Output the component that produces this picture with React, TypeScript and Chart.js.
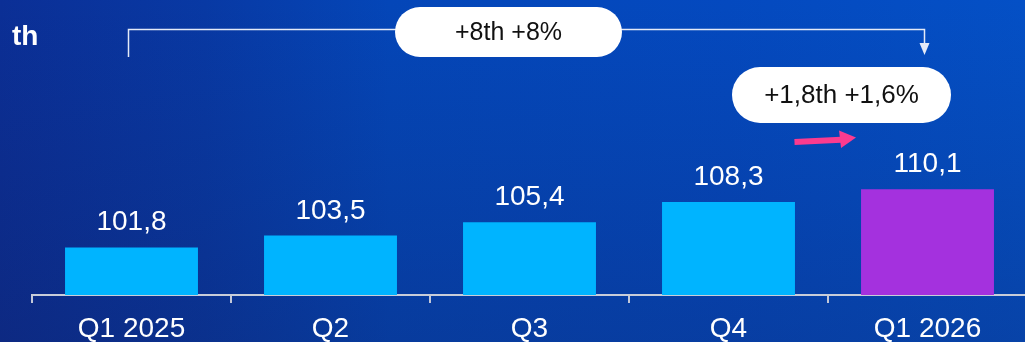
import React, { useEffect, useRef } from 'react';
import { Chart, registerables } from 'chart.js';

Chart.register(...registerables);

const FONT = "'Liberation Sans', Arial, Helvetica, sans-serif";

const categories = ['Q1 2025', 'Q2', 'Q3', 'Q4', 'Q1 2026'];
const values = [101.8, 103.5, 105.4, 108.3, 110.1];
const barColors = ['#00b4ff', '#00b4ff', '#00b4ff', '#00b4ff', '#a431de'];
const unitLabel = 'th';
const totalChangeLabel = '+8th +8%';
const lastChangeLabel = '+1,8th +1,6%';
const yMin = 95;
const yMax = 135;

const fmt = (v: number) => v.toFixed(1).replace('.', ',');

function drawPill(ctx: CanvasRenderingContext2D, x: number, y: number, w: number, h: number, text: string, size: number) {
  const r = h / 2;
  ctx.save();
  ctx.fillStyle = '#ffffff';
  ctx.beginPath();
  ctx.moveTo(x + r, y);
  ctx.lineTo(x + w - r, y);
  ctx.arc(x + w - r, y + r, r, -Math.PI / 2, Math.PI / 2);
  ctx.lineTo(x + r, y + h);
  ctx.arc(x + r, y + r, r, Math.PI / 2, (3 * Math.PI) / 2);
  ctx.closePath();
  ctx.fill();
  ctx.fillStyle = '#111111';
  ctx.font = `${size}px ${FONT}`;
  ctx.textAlign = 'center';
  ctx.textBaseline = 'middle';
  ctx.fillText(text, x + w / 2, y + h / 2 + 1);
  ctx.restore();
}

const overlay = {
  id: 'overlay',
  afterDatasetsDraw(chart: any) {
    const ctx: CanvasRenderingContext2D = chart.ctx;
    const meta = chart.getDatasetMeta(0);
    ctx.save();
    // value labels
    ctx.fillStyle = '#ffffff';
    ctx.font = `28px ${FONT}`;
    ctx.textAlign = 'center';
    ctx.textBaseline = 'alphabetic';
    meta.data.forEach((bar: any, i: number) => {
      ctx.fillText(fmt(values[i]), bar.x, bar.y - 17);
    });
    // unit label
    ctx.font = `bold 28px ${FONT}`;
    ctx.textAlign = 'left';
    ctx.fillText(unitLabel, 12, 45);

    // bracket
    const x0 = Math.round(meta.data[0].x - 3.5) + 0.5;
    const x1 = Math.round(meta.data[meta.data.length - 1].x - 3.5) + 0.5;
    const yb = 29.5;
    ctx.strokeStyle = '#e4eaf8';
    ctx.lineWidth = 1.5;
    ctx.beginPath();
    ctx.moveTo(x0, 57);
    ctx.lineTo(x0, yb);
    ctx.lineTo(x1, yb);
    ctx.lineTo(x1, 45);
    ctx.stroke();
    ctx.fillStyle = '#e4eaf8';
    ctx.beginPath();
    ctx.moveTo(x1 - 5, 43);
    ctx.lineTo(x1 + 5, 43);
    ctx.lineTo(x1, 55);
    ctx.closePath();
    ctx.fill();

    // pills
    drawPill(ctx, 395, 7, 227, 50, totalChangeLabel, 25);
    drawPill(ctx, 732, 67, 219, 56, lastChangeLabel, 26);

    // pink arrow
    const ax0 = meta.data[3].x + 66;
    const lastBar = meta.data[meta.data.length - 1];
    const tipX = lastBar.x - lastBar.width / 2 - 5;
    ctx.strokeStyle = '#fb3b8f';
    ctx.fillStyle = '#fb3b8f';
    ctx.lineWidth = 6;
    ctx.beginPath();
    ctx.moveTo(ax0, 142);
    ctx.lineTo(tipX - 15, 139.8);
    ctx.stroke();
    ctx.beginPath();
    ctx.moveTo(tipX - 17, 130.5);
    ctx.lineTo(tipX, 137.5);
    ctx.lineTo(tipX - 15, 148);
    ctx.closePath();
    ctx.fill();
    ctx.restore();
  },
};

export default function App() {
  const canvasRef = useRef<HTMLCanvasElement | null>(null);

  useEffect(() => {
    if (!canvasRef.current) return;
    const chart = new Chart(canvasRef.current, {
      type: 'bar',
      data: {
        labels: categories,
        datasets: [
          {
            data: values,
            backgroundColor: barColors,
            borderWidth: 0,
            barPercentage: 0.668,
            categoryPercentage: 1,
          },
        ],
      },
      options: {
        animation: false,
        responsive: true,
        maintainAspectRatio: false,
        layout: { padding: { left: 32, right: 1, top: 15, bottom: 0 } },
        plugins: {
          legend: { display: false },
          tooltip: { enabled: false },
        },
        scales: {
          x: {
            grid: {
              offset: true,
              drawOnChartArea: false,
              drawTicks: true,
              tickLength: 8,
              color: '#c3c8d8',
              lineWidth: 2,
            },
            border: { display: true, color: '#c8cdd9', width: 2 },
            ticks: {
              color: '#ffffff',
              font: { size: 28, family: FONT },
              padding: 9,
              maxRotation: 0,
              autoSkip: false,
            },
            afterFit: (s: any) => {
              s.height = 47;
            },
          },
          y: { display: false, min: yMin, max: yMax },
        },
      },
      plugins: [overlay],
    });
    return () => chart.destroy();
  }, []);

  return (
    <div
      style={{
        position: 'absolute',
        left: 0,
        top: 0,
        width: 1025,
        height: 342,
        overflow: 'hidden',
        background:
          'linear-gradient(to bottom, rgba(20,20,60,0) 0%, rgba(20,20,60,0.22) 100%), linear-gradient(to right, #0b2f96 0%, #0839a4 20%, #0446b8 38%, #0449bf 71%, #0450c6 100%)',
      }}
    >
      <div style={{ position: 'relative', width: 1028, height: 342 }}>
        <canvas ref={canvasRef} />
      </div>
    </div>
  );
}
